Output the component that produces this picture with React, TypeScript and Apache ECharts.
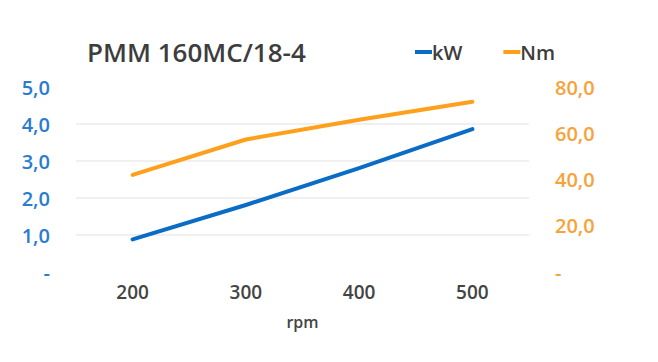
import React, { useEffect, useRef } from "react";
import * as echarts from "echarts";

const title = "PMM 160MC/18-4";
const categories = ["200", "300", "400", "500"];
const kW = [0.88, 1.81, 2.81, 3.86];
const Nm = [42.0, 57.3, 65.8, 73.6];
const xName = "rpm";

const FONT = "'Open Sans', 'Noto Sans', sans-serif";
const BLUE = "#0A6CC4";
const ORANGE = "#FFA01C";
const BLUE_TXT = "#2A7CCF";
const ORANGE_TXT = "#F8A23A";

const fmt = (v: number) => (v === 0 ? "-" : v.toFixed(1).replace(".", ","));

export default function App() {
  const ref = useRef<HTMLDivElement>(null);
  useEffect(() => {
    if (!ref.current) return;
    const chart = echarts.init(ref.current, undefined, { renderer: "svg" });
    chart.setOption({
      animation: false,
      backgroundColor: "#ffffff",
      title: {
        text: title,
        left: 87,
        top: 37,
        padding: 0,
        textStyle: { fontFamily: FONT, fontSize: 26, fontWeight: 600, color: "#3d3d3d", lineHeight: 30 },
      },
      legend: {
        left: 415,
        top: 42,
        padding: 0,
        icon: "rect",
        itemWidth: 17,
        itemHeight: 4,
        itemGap: 41,
        textStyle: { fontFamily: FONT, fontSize: 20, fontWeight: 600, color: "#3d3d3d", padding: [0, 0, 0, -5] },
        data: ["kW", "Nm"],
      },
      grid: { left: 76, right: 129, top: 87, bottom: 90, containLabel: false },
      xAxis: {
        type: "category",
        data: categories,
        boundaryGap: true,
        axisLine: { show: false },
        axisTick: { show: false },
        axisLabel: { fontFamily: FONT, fontSize: 19, fontWeight: 600, color: "#444", margin: 10 },
        name: xName,
        nameLocation: "middle",
        nameGap: 42,
        nameTextStyle: { fontFamily: FONT, fontSize: 16, fontWeight: 600, color: "#444" },
      },
      yAxis: [
        {
          type: "value",
          min: 0,
          max: 5,
          interval: 1,
          axisLine: { show: false },
          axisTick: { show: false },
          axisLabel: { formatter: fmt, fontFamily: FONT, fontSize: 20, fontWeight: 600, color: BLUE_TXT, margin: 26 },
          splitLine: { show: true, showMinLine: false, showMaxLine: false, lineStyle: { color: "#f0f0f0", width: 2 } },
        },
        {
          type: "value",
          min: 0,
          max: 80,
          interval: 20,
          position: "right",
          axisLine: { show: false },
          axisTick: { show: false },
          axisLabel: { formatter: fmt, fontFamily: FONT, fontSize: 20, fontWeight: 600, color: ORANGE_TXT, margin: 26 },
          splitLine: { show: false },
        },
      ],
      series: [
        {
          name: "kW",
          type: "line",
          data: kW,
          yAxisIndex: 0,
          symbol: "none",
          itemStyle: { color: BLUE },
          lineStyle: { color: BLUE, width: 4, cap: "round", join: "round" },
        },
        {
          name: "Nm",
          type: "line",
          data: Nm,
          yAxisIndex: 1,
          symbol: "none",
          itemStyle: { color: ORANGE },
          lineStyle: { color: ORANGE, width: 4, cap: "round", join: "round" },
        },
      ],
    });
    return () => chart.dispose();
  }, []);
  return (
    <div
      ref={ref}
      style={{ position: "fixed", left: 0, top: 0, width: 658, height: 362, background: "#fff" }}
    />
  );
}
